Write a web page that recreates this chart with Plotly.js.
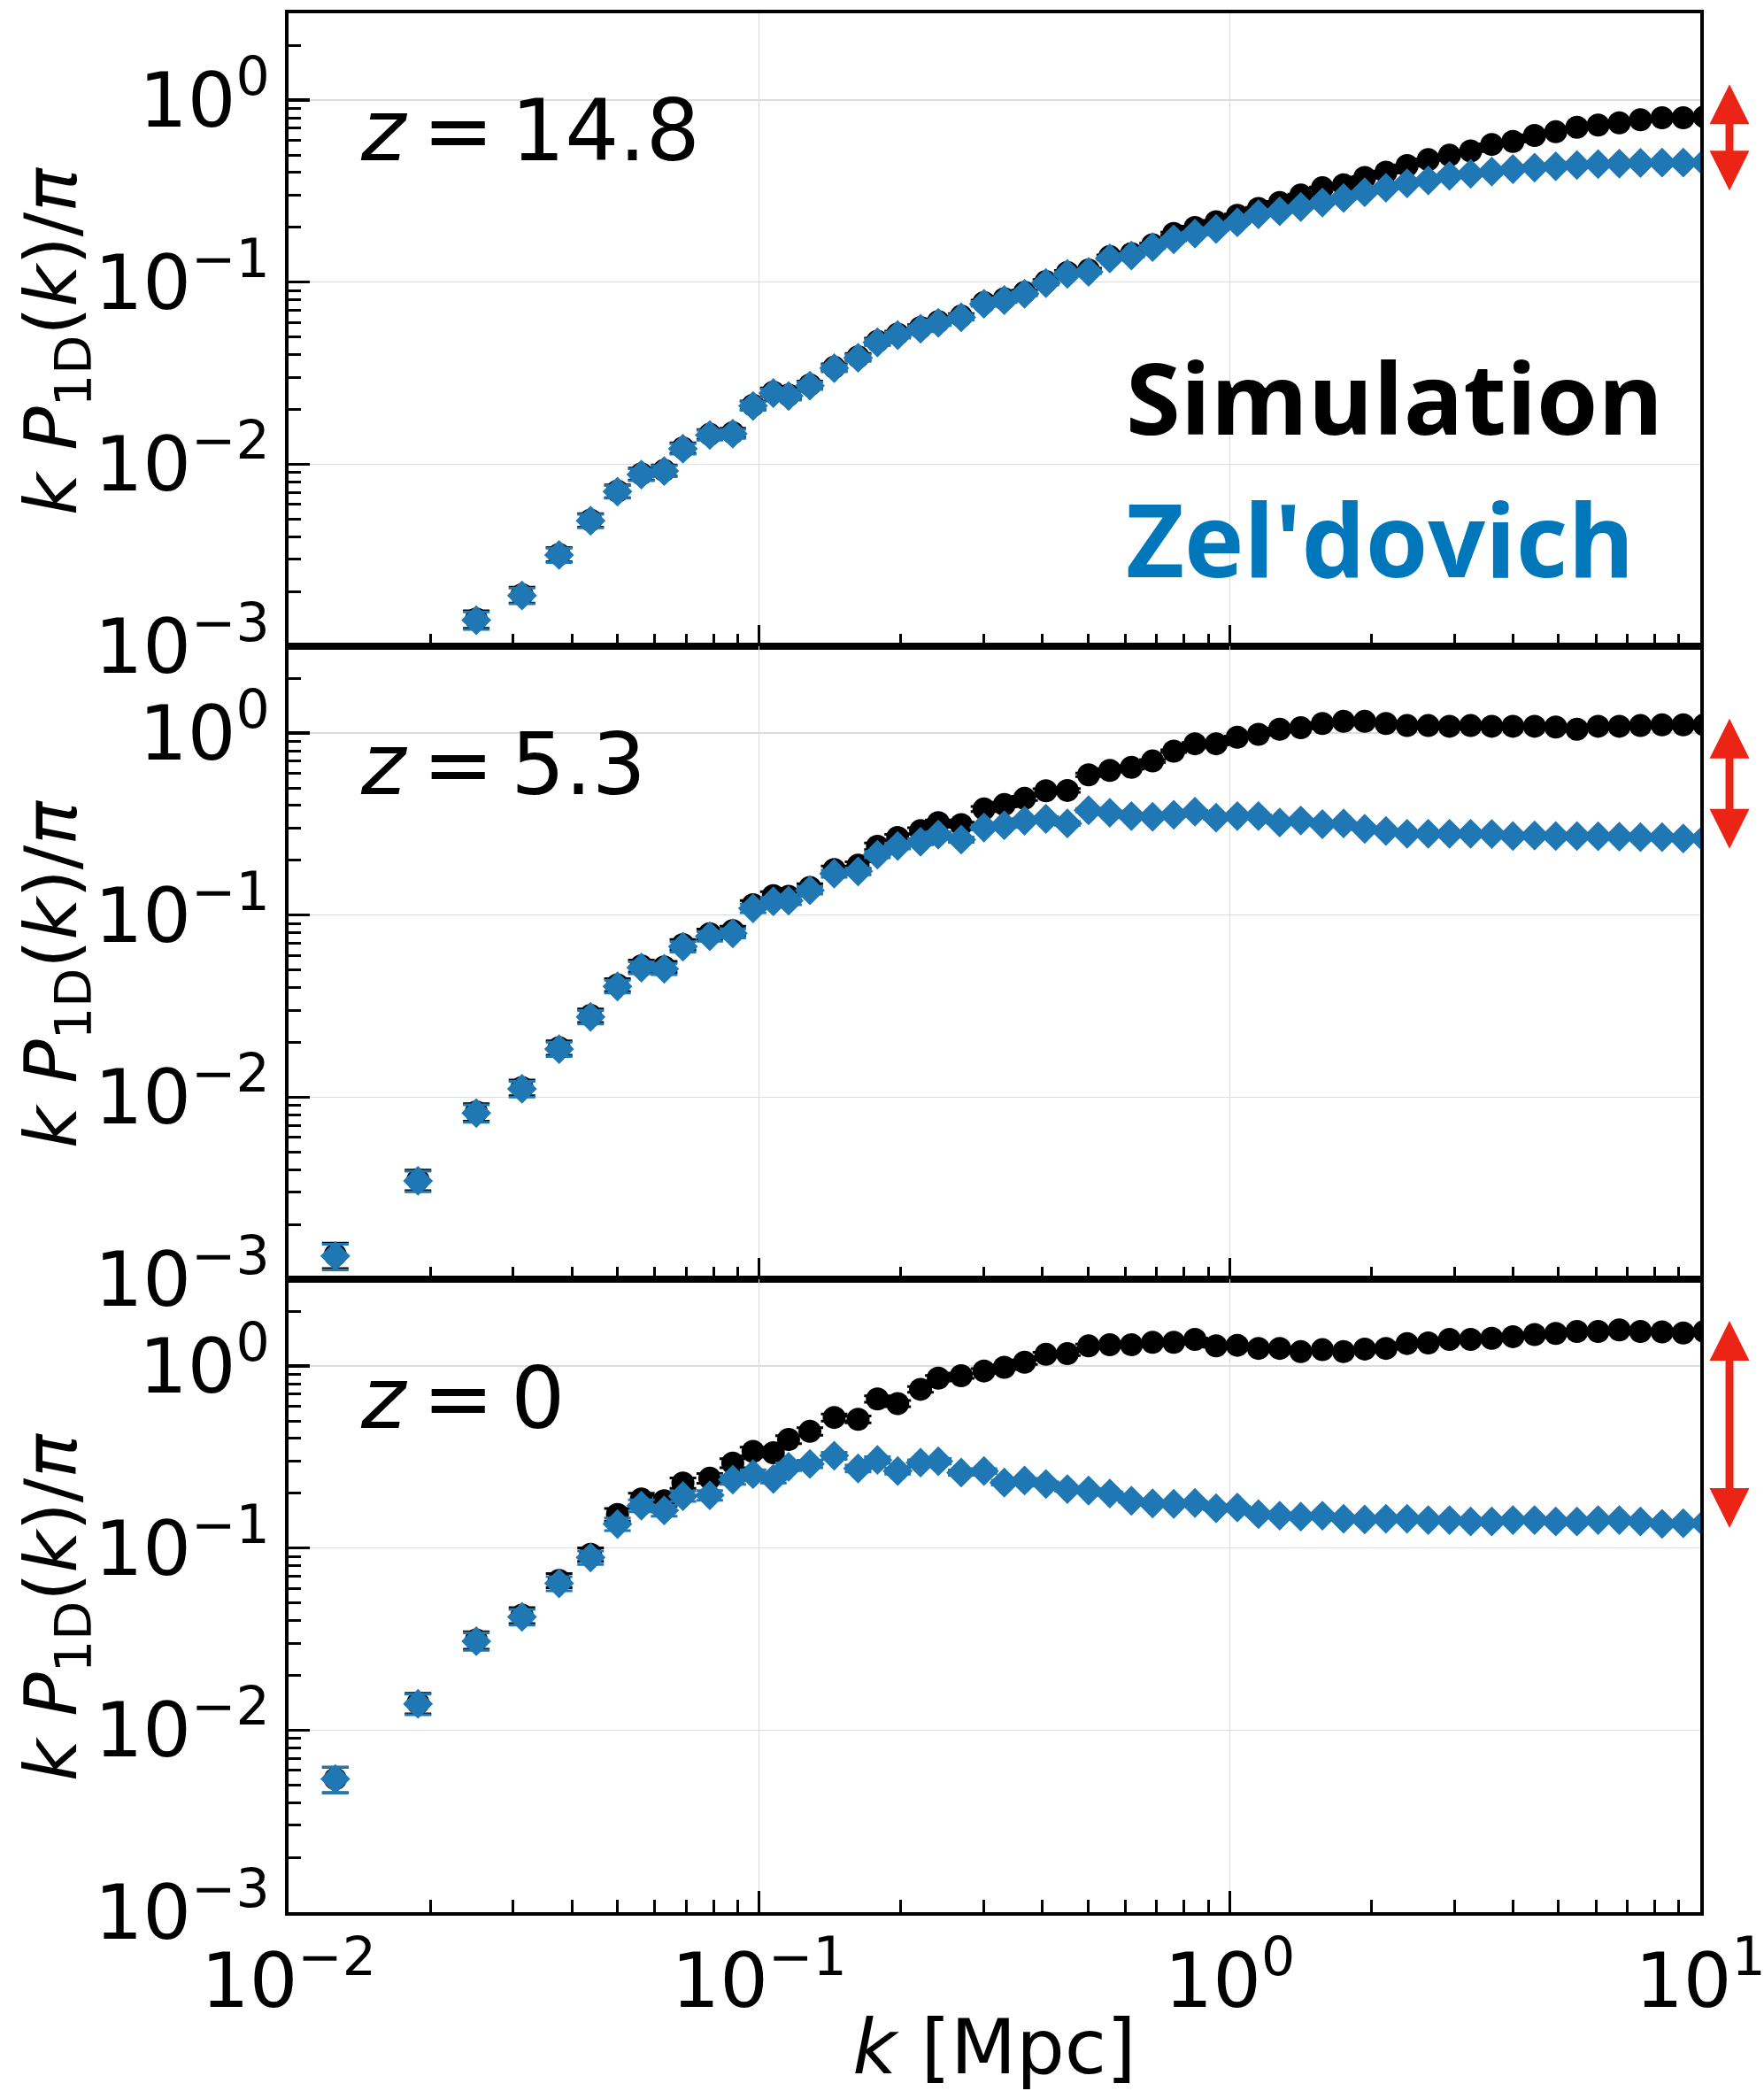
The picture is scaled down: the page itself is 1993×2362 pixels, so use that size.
<!DOCTYPE html>
<html>
<head>
<meta charset="utf-8">
<script src="https://cdn.plot.ly/plotly-3.0.1.min.js"></script>
<style>
html,body{margin:0;padding:0;background:#ffffff;}
#plot{width:1993px;height:2362px;}
</style>
</head>
<body>
<div id="plot"></div>
<script>
// ---------------- data ----------------
const k = [0.01257, 0.01884, 0.02506, 0.03134, 0.03758, 0.04384, 0.05000, 0.05620, 0.06284, 0.06888,
  0.07855, 0.08790, 0.09707, 0.1072, 0.1155, 0.1282, 0.1444, 0.1623, 0.1784, 0.1970,
  0.2203, 0.2403, 0.2688, 0.3005, 0.3319, 0.3665, 0.4069, 0.4519, 0.5013, 0.5561,
  0.6182, 0.6857, 0.7605, 0.8436, 0.9357, 1.038, 1.151, 1.277, 1.416, 1.574,
  1.746, 1.936, 2.148, 2.382, 2.642, 2.931, 3.251, 3.605, 3.998, 4.445,
  4.930, 5.469, 6.066, 6.728, 7.462, 8.295, 9.201, 10.20];

// z = 14.8
const simZ148 = [null, null, 0.00141, 0.00192, 0.00320, 0.00493, 0.00712, 0.00885, 0.00925, 0.0123,
  0.0146, 0.0149, 0.0211, 0.0249, 0.0240, 0.0273, 0.0341, 0.0389, 0.0473, 0.0519,
  0.0563, 0.0607, 0.0651, 0.0773, 0.0811, 0.0880, 0.1007, 0.1132, 0.1165, 0.1382,
  0.1436, 0.1605, 0.185, 0.1995, 0.215, 0.233, 0.254, 0.274, 0.301, 0.330,
  0.343, 0.376, 0.402, 0.437, 0.471, 0.498, 0.526, 0.571, 0.593, 0.640,
  0.670, 0.710, 0.730, 0.750, 0.780, 0.800, 0.800, 0.810];
const zelZ148 = [null, null, 0.00139, 0.00190, 0.00317, 0.00489, 0.00707, 0.00877, 0.00917, 0.01216,
  0.01446, 0.01470, 0.0209, 0.0246, 0.0237, 0.0270, 0.0337, 0.0384, 0.0467, 0.0512,
  0.0555, 0.0598, 0.0641, 0.0761, 0.0797, 0.0864, 0.0989, 0.111, 0.114, 0.135,
  0.140, 0.156, 0.172, 0.185, 0.196, 0.213, 0.236, 0.245, 0.259, 0.274,
  0.290, 0.312, 0.330, 0.349, 0.362, 0.384, 0.394, 0.405, 0.418, 0.426,
  0.433, 0.440, 0.445, 0.448, 0.452, 0.454, 0.454, 0.454];

// z = 5.3
const simZ53 = [0.00136, 0.00352, 0.0083, 0.0113, 0.0187, 0.0281, 0.0414, 0.0527, 0.0520, 0.0690,
  0.0790, 0.0822, 0.114, 0.128, 0.127, 0.142, 0.178, 0.188, 0.239, 0.267,
  0.291, 0.322, 0.314, 0.383, 0.405, 0.438, 0.482, 0.484, 0.590, 0.624,
  0.648, 0.703, 0.796, 0.874, 0.874, 0.949, 0.985, 1.05, 1.07, 1.13,
  1.16, 1.16, 1.13, 1.10, 1.10, 1.09, 1.10, 1.09, 1.09, 1.09,
  1.08, 1.05, 1.09, 1.09, 1.10, 1.11, 1.11, 1.11];
const zelZ53 = [0.00134, 0.00347, 0.00818, 0.01112, 0.01837, 0.0276, 0.0406, 0.0515, 0.0507, 0.0671,
  0.0766, 0.0795, 0.109, 0.119, 0.120, 0.137, 0.169, 0.174, 0.215, 0.240,
  0.253, 0.277, 0.260, 0.303, 0.312, 0.330, 0.338, 0.319, 0.377, 0.365,
  0.350, 0.347, 0.356, 0.370, 0.343, 0.350, 0.350, 0.323, 0.331, 0.316,
  0.319, 0.298, 0.290, 0.280, 0.280, 0.280, 0.280, 0.279, 0.272, 0.274,
  0.272, 0.272, 0.271, 0.270, 0.268, 0.268, 0.264, 0.264];

// z = 0
const simZ0 = [0.0054, 0.0141, 0.0313, 0.0428, 0.0665, 0.0925, 0.153, 0.186, 0.182, 0.228,
  0.242, 0.293, 0.340, 0.334, 0.395, 0.438, 0.522, 0.510, 0.660, 0.622,
  0.745, 0.858, 0.885, 0.940, 0.985, 1.05, 1.16, 1.17, 1.29, 1.31,
  1.31, 1.35, 1.35, 1.40, 1.29, 1.30, 1.25, 1.25, 1.20, 1.23,
  1.20, 1.24, 1.25, 1.33, 1.34, 1.40, 1.40, 1.42, 1.45, 1.49,
  1.51, 1.55, 1.55, 1.58, 1.55, 1.54, 1.52, 1.55];
const zelZ0 = [0.00539, 0.01395, 0.0308, 0.0419, 0.0640, 0.0888, 0.1355, 0.171, 0.161, 0.193,
  0.195, 0.238, 0.255, 0.240, 0.280, 0.290, 0.322, 0.274, 0.305, 0.265,
  0.295, 0.300, 0.260, 0.265, 0.229, 0.235, 0.225, 0.211, 0.207, 0.1995,
  0.182, 0.176, 0.175, 0.177, 0.1655, 0.167, 0.1536, 0.1507, 0.149, 0.1507,
  0.145, 0.1436, 0.145, 0.145, 0.1426, 0.1426, 0.140, 0.140, 0.1426, 0.1426,
  0.140, 0.140, 0.1426, 0.1426, 0.140, 0.136, 0.137, 0.137];

// relative 1-sigma error per k bin (estimated from cap spacing)
const relErr = [0.16, 0.13, 0.11, 0.10, 0.09, 0.085, 0.08, 0.075, 0.07, 0.066,
  0.062, 0.058, 0.055, 0.052, 0.05, 0.048, 0.045, 0.043, 0.041, 0.039,
  0.037, 0.035, 0.033, 0.031, 0.029, 0.027, 0.026, 0.024, 0.023, 0.021,
  0.02, 0.019, 0.018, 0.017, 0.016, 0.015, 0.014, 0.013, 0.012, 0.011,
  0.011, 0.010, 0.010, 0.009, 0.009, 0.008, 0.008, 0.008, 0.007, 0.007,
  0.007, 0.006, 0.006, 0.006, 0.006, 0.005, 0.005, 0.005];

const redshiftLabels = ['<i>z</i>\u2009=\u200914.8', '<i>z</i>\u2009=\u20095.3', '<i>z</i>\u2009=\u20090'];
const seriesNames = ['Simulation', "Zel'dovich"];
// red double arrows (tips, in data units of each panel)
const arrowHigh = [1.22, 1.20, 1.77];
const arrowLow = [0.313, 0.228, 0.127];

const xTickVals = [0.01, 0.1, 1, 10];
const xTickText = ['10<sup>\u22122</sup>', '10<sup>\u22121</sup>', '10<sup>0</sup>', '10<sup>1</sup>'];
const yTickVals = [0.001, 0.01, 0.1, 1];
const yTickText = ['10<sup>\u22123</sup>', '10<sup>\u22122</sup>', '10<sup>\u22121</sup>', '10<sup>0</sup>'];
const xTitle = '<i>k</i> [Mpc]';
const yTitle = '<i>k P</i><sub>1D</sub>(<i>k</i>)/<i>\u03c0</i>';

// ---------------- figure ----------------
const BLACK = '#000000';
const BLUE = '#1f77b4';
const TEXTBLUE = '#0077bb';
const RED = '#ec2415';
const FONT = 'DejaVu Sans';

function minorTicks(lo, hi, top) {
  const out = [];
  for (let d = lo; d < hi; d++) {
    for (let m = 2; m <= 9; m++) {
      const v = m * Math.pow(10, d);
      if (v <= top) out.push(v);
    }
  }
  return out;
}
const xMinor = minorTicks(-2, 1, 10);
const yMinor = minorTicks(-3, 1, 3);

const panels = [
  {sim: simZ148, zel: zelZ148, sfx: ''},
  {sim: simZ53, zel: zelZ53, sfx: '2'},
  {sim: simZ0, zel: zelZ0, sfx: '3'}
];

function errs(arr) {
  return arr.map((v, i) => (v == null ? null : v * relErr[i]));
}

const traces = [];
panels.forEach(p => {
  traces.push({
    type: 'scatter', mode: 'markers', name: seriesNames[0],
    x: k, y: p.sim, xaxis: 'x' + p.sfx, yaxis: 'y' + p.sfx,
    marker: {symbol: 'circle', size: 26, color: BLACK},
    error_y: {type: 'data', array: errs(p.sim), visible: true, color: BLACK, thickness: 3, width: 15},
    cliponaxis: true, showlegend: false, hoverinfo: 'skip'
  });
  traces.push({
    type: 'scatter', mode: 'markers', name: seriesNames[1],
    x: k, y: p.zel, xaxis: 'x' + p.sfx, yaxis: 'y' + p.sfx,
    marker: {symbol: 'diamond', size: 26, color: BLUE},
    error_y: {type: 'data', array: errs(p.zel), visible: true, color: BLUE, thickness: 3, width: 15},
    cliponaxis: true, showlegend: false, hoverinfo: 'skip'
  });
});

function xAxis(anchor, showLabels, withTitle) {
  const a = {
    type: 'log', range: [-2, 1], domain: [0, 1], anchor: anchor,
    showline: true, linecolor: BLACK, linewidth: 4, mirror: true,
    ticks: 'inside', ticklen: 24, tickwidth: 3.5, tickcolor: BLACK,
    tickmode: 'array', tickvals: xTickVals, ticktext: xTickText,
    showticklabels: showLabels, ticklabeloverflow: 'allow',
    tickfont: {family: FONT, size: 86, color: BLACK},
    showgrid: true, gridcolor: '#dddddd', gridwidth: 1.5, zeroline: false,
    minor: {tickmode: 'array', tickvals: xMinor, ticks: 'inside', ticklen: 14, tickwidth: 3, tickcolor: BLACK, showgrid: false}
  };
  if (withTitle) a.title = {text: xTitle, font: {family: FONT, size: 86, color: BLACK}, standoff: 18};
  return a;
}
function yAxis(anchor, domain) {
  return {
    type: 'log', range: [-3, Math.log10(3)], domain: domain, anchor: anchor,
    showline: true, linecolor: BLACK, linewidth: 4, mirror: true,
    ticks: 'inside', ticklen: 24, tickwidth: 3.5, tickcolor: BLACK,
    tickmode: 'array', tickvals: yTickVals, ticktext: yTickText,
    ticklabeloverflow: 'allow',
    tickfont: {family: FONT, size: 86, color: BLACK},
    showgrid: true, gridcolor: '#dddddd', gridwidth: 1.5, zeroline: false,
    minor: {tickmode: 'array', tickvals: yMinor, ticks: 'inside', ticklen: 14, tickwidth: 3, tickcolor: BLACK, showgrid: false}
  };
}

const annotations = [];
// y-axis titles (one per panel), placed like matplotlib's ylabel
const panelCenters = [5 / 6, 1 / 2, 1 / 6];
panelCenters.forEach(c => {
  annotations.push({
    xref: 'paper', yref: 'paper', x: -0.1649, y: c - 0.006, xanchor: 'center', yanchor: 'middle',
    text: yTitle, textangle: -90, showarrow: false,
    font: {family: FONT, size: 82, color: BLACK}
  });
});
const zLabelY = [0.938, 0.6042, 0.2704];
redshiftLabels.forEach((t, i) => {
  annotations.push({
    xref: 'paper', yref: 'paper', x: 0.0495, y: zLabelY[i], xanchor: 'left', yanchor: 'middle',
    text: t, showarrow: false, font: {family: FONT, size: 96, color: BLACK}
  });
});
annotations.push({
  xref: 'paper', yref: 'paper', x: 0.592, y: 0.7986, xanchor: 'left', yanchor: 'middle',
  text: '<b>' + seriesNames[0] + '</b>', showarrow: false,
  font: {family: 'Open Sans', size: 112, color: BLACK}
});
annotations.push({
  xref: 'paper', yref: 'paper', x: 0.592, y: 0.724, xanchor: 'left', yanchor: 'middle',
  text: '<b>' + seriesNames[1] + '</b>', showarrow: false,
  font: {family: 'Open Sans', size: 114, color: TEXTBLUE}
});
// annotation positions on log axes are given in log10 units
['y', 'y2', 'y3'].forEach((ya, i) => {
  annotations.push({
    xref: 'paper', yref: ya, x: 1.0207, y: Math.log10(arrowHigh[i]),
    axref: 'pixel', ax: 0, ayref: ya, ay: Math.log10(arrowLow[i]),
    text: '', showarrow: true, arrowside: 'end+start',
    arrowhead: 2, startarrowhead: 2, arrowsize: 1, startarrowsize: 1,
    arrowwidth: 9, arrowcolor: RED, standoff: 0, startstandoff: 0
  });
});

const layout = {
  width: 1993, height: 2362,
  margin: {l: 326, r: 72, t: 15, b: 202, pad: 0},
  paper_bgcolor: '#ffffff', plot_bgcolor: '#ffffff',
  showlegend: false,
  font: {family: FONT, color: BLACK},
  xaxis: xAxis('y', false, false),
  xaxis2: xAxis('y2', false, false),
  xaxis3: xAxis('y3', true, true),
  yaxis: yAxis('x', [2 / 3, 1]),
  yaxis2: yAxis('x2', [1 / 3, 2 / 3]),
  yaxis3: yAxis('x3', [0, 1 / 3]),
  annotations: annotations
};

Plotly.newPlot('plot', traces, layout, {staticPlot: true, displayModeBar: false});
</script>
</body>
</html>
